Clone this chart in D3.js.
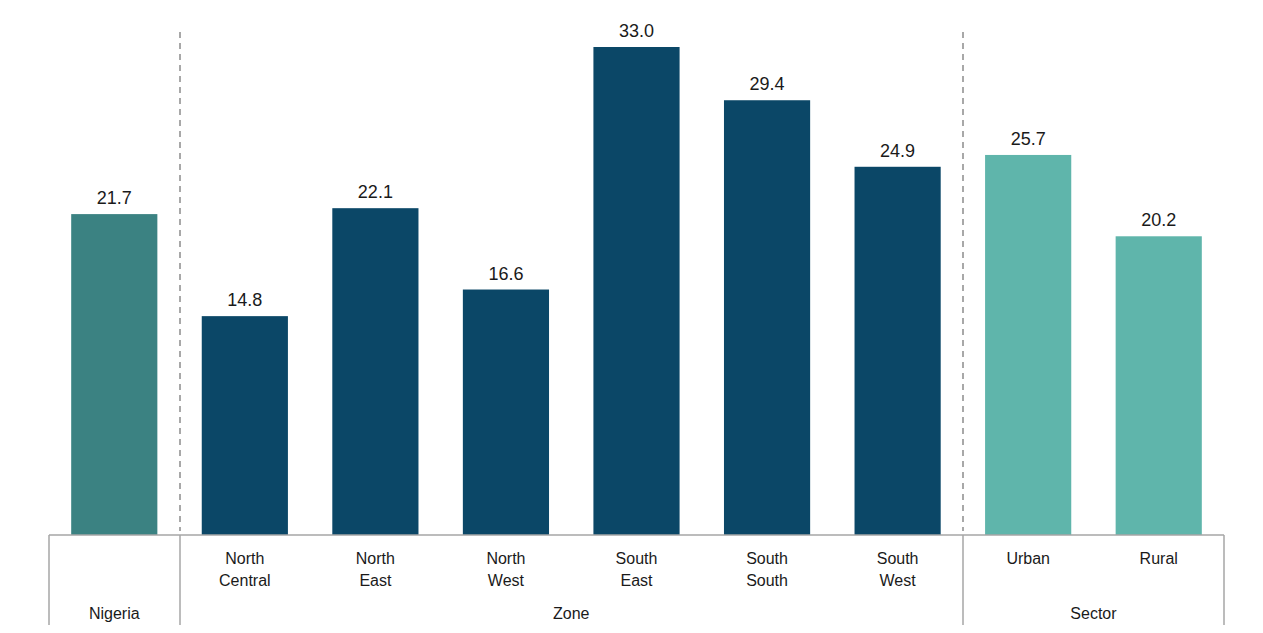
<!DOCTYPE html>
<html>
<head>
<meta charset="utf-8">
<script src="https://cdn.jsdelivr.net/npm/d3@7"></script>
<style>
  html, body { margin: 0; padding: 0; background: #fff; }
  svg { display: block; }
  text { font-family: "Liberation Sans Narrow", "Liberation Sans", Arial, sans-serif; fill: #1a1a1a; }
</style>
</head>
<body>
<svg id="chart" width="1263" height="633"></svg>
<script>
// Categories, grouped into Nigeria / Zone / Sector
const categories = ["Nigeria", "North Central", "North East", "North West", "South East", "South South", "South West", "Urban", "Rural"];
const values = [21.7, 14.8, 22.1, 16.6, 33.0, 29.4, 24.9, 25.7, 20.2];
const groupOf = ["Nigeria", "Zone", "Zone", "Zone", "Zone", "Zone", "Zone", "Sector", "Sector"];
const groups = ["Nigeria", "Zone", "Sector"];
const groupColors = { Nigeria: "#3b8282", Zone: "#0b4767", Sector: "#5fb5ab" };

const svg = d3.select("#chart");
const left = 49, right = 1224, baseY = 535, bottom = 625;

const x = d3.scaleBand().domain(categories).range([left, right]).paddingInner(0.34).paddingOuter(0.17);
const y = d3.scaleLinear().domain([0, 33]).range([baseY, 47]);

// Bars
svg.append("g").selectAll("rect").data(categories).join("rect")
  .attr("x", d => x(d))
  .attr("width", x.bandwidth())
  .attr("y", (d, i) => y(values[i]))
  .attr("height", (d, i) => y(0) - y(values[i]))
  .attr("fill", (d, i) => groupColors[groupOf[i]]);

// Value labels
svg.append("g").selectAll("text").data(categories).join("text")
  .attr("x", d => x(d) + x.bandwidth() / 2)
  .attr("y", (d, i) => y(values[i]) - 10)
  .attr("text-anchor", "middle")
  .attr("font-size", 18)
  .text((d, i) => values[i].toFixed(1));

// Group extents along the axis
const step = x.step();
const groupBounds = groups.map(g => {
  const idx = categories.map((c, i) => i).filter(i => groupOf[i] === g);
  const x0 = x(categories[idx[0]]) - (step - x.bandwidth()) / 2;
  const x1 = x(categories[idx[idx.length - 1]]) + x.bandwidth() + (step - x.bandwidth()) / 2;
  return { g, x0, x1 };
});

// Baseline
svg.append("line")
  .attr("x1", left).attr("x2", right).attr("y1", baseY).attr("y2", baseY)
  .attr("stroke", "#a6a6a6").attr("stroke-width", 1.5);

// Group separators below the axis
const seps = [left].concat(groupBounds.map(b => b.x1));
svg.append("g").selectAll("line").data(seps).join("line")
  .attr("x1", d => Math.round(d)).attr("x2", d => Math.round(d))
  .attr("y1", baseY).attr("y2", bottom)
  .attr("stroke", "#a6a6a6").attr("stroke-width", 1.5);

// Dashed dividers between groups in the plot area
svg.append("g").selectAll("line").data(groupBounds.slice(0, -1).map(b => b.x1)).join("line")
  .attr("x1", d => Math.round(d)).attr("x2", d => Math.round(d))
  .attr("y1", 32).attr("y2", baseY - 4)
  .attr("stroke", "#8c8c8c").attr("stroke-width", 1.5)
  .attr("stroke-dasharray", "6,5");

// Category labels (skip the single-item group, which is named by its group label)
const catLabels = svg.append("g");
categories.forEach((c, i) => {
  if (groupOf[i] === "Nigeria") return;
  const words = c.split(" ");
  const t = catLabels.append("text")
    .attr("x", x(c) + x.bandwidth() / 2)
    .attr("y", 564)
    .attr("text-anchor", "middle")
    .attr("font-size", 16);
  words.forEach((w, k) => {
    t.append("tspan").attr("x", x(c) + x.bandwidth() / 2).attr("dy", k === 0 ? 0 : 22).text(w);
  });
});

// Group labels
svg.append("g").selectAll("text").data(groupBounds).join("text")
  .attr("x", d => (d.x0 + d.x1) / 2)
  .attr("y", 619)
  .attr("text-anchor", "middle")
  .attr("font-size", 16)
  .text(d => d.g);
</script>
</body>
</html>
